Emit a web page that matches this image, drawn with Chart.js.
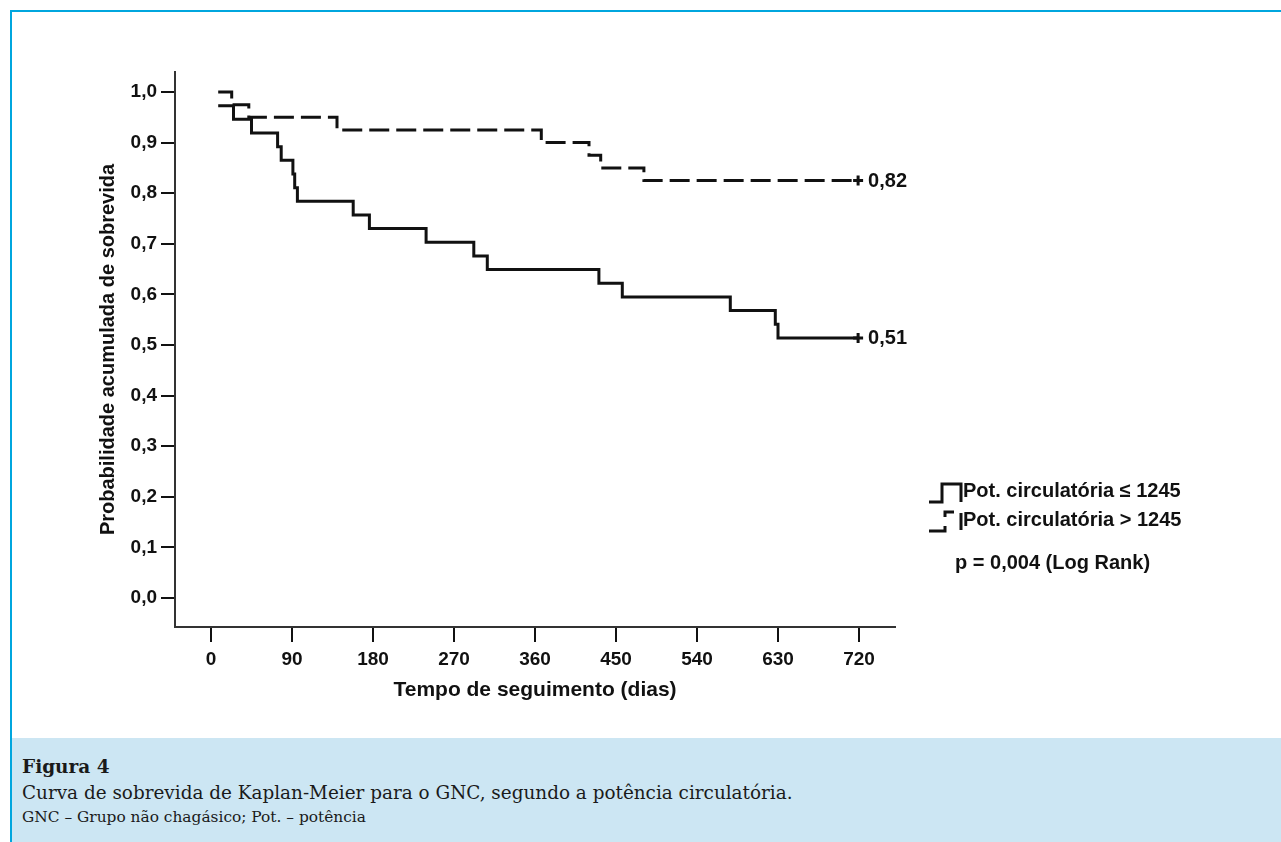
<!DOCTYPE html>
<html>
<head>
<meta charset="utf-8">
<script src="https://cdn.jsdelivr.net/npm/chart.js@4/dist/chart.umd.min.js"></script>
<style>
  html, body { margin: 0; padding: 0; background: #fff; }
  body { width: 1281px; height: 842px; position: relative; overflow: hidden; }
  #frame { position: absolute; left: 10px; top: 10px; right: 0; bottom: 0;
           border-left: 2px solid #00a6de; border-top: 2px solid #00a6de; }
  #chartBox { position: absolute; left: 12px; top: 12px; width: 1269px; height: 726px; }
  #caption { position: absolute; left: 12px; top: 738px; width: 1269px; height: 104px;
             background: #cce6f3; font-family: "DejaVu Serif", serif; color: #1a1a1a; }
  #caption div { position: absolute; left: 10px; white-space: nowrap; }
  .c1 { top: 18px; font-size: 18.5px; font-weight: bold; }
  .c2 { top: 44px; font-size: 18.4px; }
  .c3 { top: 70px; font-size: 15.4px; }
</style>
</head>
<body>
<div id="frame"></div>
<div id="chartBox"><canvas id="km"></canvas></div>
<div id="caption">
  <div class="c1">Figura 4</div>
  <div class="c2">Curva de sobrevida de Kaplan-Meier para o GNC, segundo a potência circulatória.</div>
  <div class="c3">GNC – Grupo não chagásico; Pot. – potência</div>
</div>
<script>
// Kaplan-Meier curves (days, cumulative survival)
const lowTimes = [8, 25, 45, 74, 78, 91, 93, 96, 158, 176, 239, 292, 307, 431, 457, 577, 627, 630, 720];
const lowSurv  = [0.973, 0.946, 0.919, 0.892, 0.865, 0.838, 0.811, 0.784, 0.757, 0.730, 0.703, 0.676, 0.649, 0.622, 0.595, 0.568, 0.541, 0.514, 0.514];
const highTimes = [8, 23, 42, 140, 367, 420, 433, 481, 720];
const highSurv  = [1.0, 0.975, 0.95, 0.925, 0.90, 0.875, 0.85, 0.825, 0.825];

const censorTimes = [719, 719];
const censorSurv  = [0.825, 0.514];
const endLabels   = ['0,82', '0,51'];

const xTicks = [0, 90, 180, 270, 360, 450, 540, 630, 720];
const yTicks = [0, 0.1, 0.2, 0.3, 0.4, 0.5, 0.6, 0.7, 0.8, 0.9, 1.0];

const legendLabels = ['Pot. circulatória ≤ 1245', 'Pot. circulatória > 1245'];
const pText = 'p = 0,004 (Log Rank)';

const FONT = '"Liberation Sans", Arial, sans-serif';
const INK = '#111';

function toPoints(ts, vs) {
    return ts.map((t, i) => ({ x: t, y: vs[i] }));
}

const extras = {
    id: 'extras',
    afterDatasetsDraw(chart) {
        const ctx = chart.ctx;
        const xs = chart.scales.x, ys = chart.scales.y;
        ctx.save();
        ctx.fillStyle = INK;
        ctx.font = 'bold 20px ' + FONT;
        ctx.textBaseline = 'middle';
        ctx.textAlign = 'left';
        endLabels.forEach((lab, i) => {
            ctx.fillText(lab, xs.getPixelForValue(censorTimes[i]) + 10, ys.getPixelForValue(censorSurv[i]) + 1);
        });

        // legend glyphs
        ctx.strokeStyle = INK;
        ctx.lineWidth = 3;
        ctx.lineCap = 'butt';
        ctx.lineJoin = 'miter';
        ctx.beginPath();
        ctx.moveTo(917, 490); ctx.lineTo(930, 490); ctx.lineTo(930, 472);
        ctx.lineTo(949, 472); ctx.lineTo(949, 490);
        ctx.stroke();

        ctx.setLineDash([21, 9, 14, 8, 18, 100]);
        ctx.beginPath();
        ctx.moveTo(917, 519); ctx.lineTo(933, 519); ctx.lineTo(933, 500);
        ctx.lineTo(949, 500); ctx.lineTo(949, 518);
        ctx.stroke();
        ctx.setLineDash([]);

        ctx.fillText(legendLabels[0], 951, 479);
        ctx.fillText(legendLabels[1], 951, 508);
        ctx.fillText(pText, 943, 551);
        ctx.restore();
    }
};

new Chart(document.getElementById('km'), {
    type: 'scatter',
    data: {
        datasets: [
            {
                label: legendLabels[0],
                data: toPoints(lowTimes, lowSurv),
                showLine: true,
                stepped: true,
                borderColor: INK,
                borderWidth: 3,
                pointRadius: 0
            },
            {
                label: legendLabels[1],
                data: toPoints(highTimes, highSurv),
                showLine: true,
                stepped: true,
                borderColor: INK,
                borderWidth: 3,
                borderDash: [20, 7],
                pointRadius: 0
            },
            {
                label: 'censored',
                data: toPoints(censorTimes, censorSurv),
                pointStyle: 'cross',
                pointRadius: 5,
                pointBorderWidth: 3,
                borderColor: INK,
                backgroundColor: INK
            }
        ]
    },
    options: {
        responsive: true,
        maintainAspectRatio: false,
        animation: false,
        layout: { padding: { top: 60, right: 386, left: 0, bottom: 0 } },
        plugins: { legend: { display: false }, tooltip: { enabled: false } },
        scales: {
            x: {
                type: 'linear',
                min: -40,
                max: 760,
                afterBuildTicks: s => { s.ticks = xTicks.map(v => ({ value: v })); },
                afterFit: s => { s.height = 111; },
                grid: { drawOnChartArea: false, drawTicks: true, tickLength: 15, lineWidth: 2, color: INK },
                border: { display: true, color: '#333', width: 2 },
                ticks: { autoSkip: false, maxRotation: 0, padding: 6, color: INK,
                         font: { family: FONT, size: 19, weight: 'bold' } },
                title: { display: true, text: 'Tempo de seguimento (dias)', color: INK,
                         font: { family: FONT, size: 21, weight: 'bold' },
                         padding: { top: 0, bottom: 35 } }
            },
            y: {
                type: 'linear',
                min: -0.0573,
                max: 1.0395,
                afterBuildTicks: s => { s.ticks = yTicks.map(v => ({ value: v })); },
                afterFit: s => { s.width = 163; },
                grid: { drawOnChartArea: false, drawTicks: true, tickLength: 14, lineWidth: 2, color: INK },
                border: { display: true, color: '#333', width: 2 },
                ticks: { autoSkip: false, padding: 4, color: INK,
                         font: { family: FONT, size: 19, weight: 'bold' },
                         callback: v => v.toFixed(1).replace('.', ',') },
                title: { display: true, text: 'Probabilidade acumulada de sobrevida', color: INK,
                         font: { family: FONT, size: 20, weight: 'bold' },
                         padding: { top: 84, bottom: 0 } }
            }
        }
    },
    plugins: [extras]
});
</script>
</body>
</html>
